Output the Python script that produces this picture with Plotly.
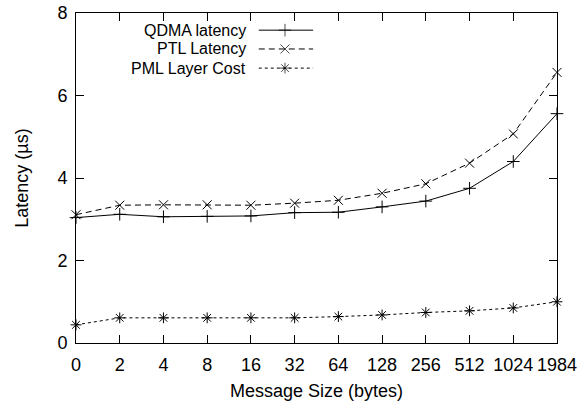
import plotly.graph_objects as go

sizes = ["0", "2", "4", "8", "16", "32", "64", "128", "256", "512", "1024", "1984"]
qdma_latency = [3.04, 3.12, 3.06, 3.07, 3.08, 3.16, 3.17, 3.30, 3.44, 3.75, 4.40, 5.56]
ptl_latency = [3.11, 3.34, 3.35, 3.35, 3.34, 3.39, 3.46, 3.63, 3.86, 4.36, 5.07, 6.56]
pml_cost = [0.44, 0.61, 0.61, 0.61, 0.61, 0.61, 0.64, 0.68, 0.74, 0.78, 0.85, 1.00]

series = [
    ("QDMA latency", qdma_latency, "solid", "cross-thin-open"),
    ("PTL Latency", ptl_latency, "6px,4px", "x-thin-open"),
    ("PML Layer Cost", pml_cost, "3px,3px", "asterisk-open"),
]

FONT = "Liberation Sans, Arial, sans-serif"
FS = 18
idx = list(range(len(sizes)))

fig = go.Figure()
for name, vals, dash, sym in series:
    fig.add_trace(go.Scatter(
        x=idx, y=vals, mode="lines+markers", name=name,
        line=dict(color="black", width=1, dash=dash),
        marker=dict(symbol=sym, size=9, color="black", line=dict(color="black", width=1)),
        cliponaxis=False, showlegend=False,
    ))

# manual gnuplot-style legend (text left, sample right)
legend_y = [0.948, 0.891, 0.833]
for (name, vals, dash, sym), ly in zip(series, legend_y):
    fig.add_trace(go.Scatter(
        x=[0.380, 0.4345, 0.493], y=[ly, ly, ly], xaxis="x2", yaxis="y2",
        mode="lines+markers",
        line=dict(color="black", width=1, dash=dash),
        marker=dict(symbol=sym, size=[0, 9, 0], color="black", line=dict(color="black", width=1)),
        cliponaxis=False, showlegend=False, hoverinfo="skip",
    ))
    fig.add_annotation(x=0.3555, y=ly, xref="paper", yref="paper", text=name,
                       showarrow=False, xanchor="right", yanchor="middle",
                       borderpad=0,
                       font=dict(family=FONT, size=16, color="black"))

axis_common = dict(showline=True, linecolor="black", linewidth=1, mirror="ticks",
                   ticks="inside", ticklen=8, tickcolor="black", tickwidth=1,
                   showgrid=False, zeroline=False, automargin=False,
                   tickfont=dict(family=FONT, size=FS, color="black"))

fig.update_layout(
    width=587, height=404,
    margin=dict(l=76, r=30, t=13, b=61),
    paper_bgcolor="white", plot_bgcolor="white",
    font=dict(family=FONT, size=FS, color="black"),
    xaxis=dict(range=[0, len(sizes) - 1], tickvals=idx, ticktext=sizes, tickangle=0,
               ticklabelstandoff=5,
               title=dict(text="Message Size (bytes)", standoff=10,
                          font=dict(family=FONT, size=FS, color="black")),
               **axis_common),
    yaxis=dict(range=[0, 8], tickvals=[0, 2, 4, 6, 8], ticklabelstandoff=4,
               title=dict(text="Latency (µs)", standoff=24,
                          font=dict(family=FONT, size=FS, color="black")),
               **axis_common),
    xaxis2=dict(range=[0, 1], overlaying="x", visible=False, domain=[0, 1]),
    yaxis2=dict(range=[0, 1], overlaying="y", visible=False, anchor="x2"),
)

fig.write_html("out.html")
